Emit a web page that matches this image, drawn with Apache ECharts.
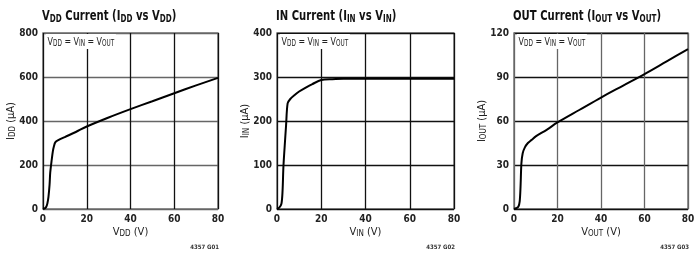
<!DOCTYPE html>
<html><head><meta charset="utf-8">
<script src="https://cdn.jsdelivr.net/npm/echarts@6/dist/echarts.min.js"></script>
<style>html,body{margin:0;padding:0;background:#fff}#c{width:699px;height:257px}</style>
</head><body><div id="c"></div>
<script>
// ---- data ----
const xTicks = [0, 20, 40, 60, 80];
const vddX = [0, 1, 1.5, 2, 2.5, 3, 3.3, 4, 4.5, 5, 5.6, 7, 10, 15, 20, 30, 40, 50, 60, 70, 80];
const iddY = [0, 4, 10, 25, 55, 110, 165, 225, 262, 285, 303, 313, 327, 350, 375, 416, 454, 490, 526, 562, 596];
const vinX = [0, 1, 2, 2.5, 2.9, 3.5, 4.1, 4.8, 6, 8, 10, 13, 16, 20, 25, 30, 40, 60, 80];
const iinY = [0, 3, 12, 40, 96, 145, 190, 240, 250, 259, 267, 276, 284, 293, 295, 296, 296, 296, 296];
const voutX = [0, 1, 2, 2.6, 3, 3.4, 4, 5, 6.4, 8, 10, 15, 20, 30, 40, 50, 60, 70, 80];
const ioutY = [0, 0.5, 1.5, 5, 15, 31, 38, 42, 45, 47, 49.5, 54, 59, 67.5, 76, 84, 92, 100.5, 109];
const yMax = [800, 400, 120];
const yStep = [200, 100, 30];

const FF = "'Liberation Sans Narrow','Arial Narrow','DejaVu Sans Condensed',sans-serif";
const richBase = {
  b: {fontSize: 14, fontWeight: 'bold', fontFamily: FF, fill: '#111', color: '#111'},
  s: {fontSize: 10, fontWeight: 'bold', fontFamily: FF, fill: '#111', color: '#111', padding: [6, 0, 0, 0]}
};
const richName = {
  b: {fontSize: 11, fontFamily: FF, color: '#222'},
  s: {fontSize: 8, fontFamily: FF, color: '#222', padding: [4, 0, 0, 0]}
};
const richAnn = {
  b: {fontSize: 11, fontFamily: FF, fill: '#222', color: '#222'},
  s: {fontSize: 8, fontFamily: FF, fill: '#222', color: '#222', padding: [4, 0, 0, 0]}
};

const titles = [
  '{b|V}{s|DD}{b| Current (I}{s|DD}{b| vs V}{s|DD}{b|)}',
  '{b|IN Current (I}{s|IN}{b| vs V}{s|IN}{b|)}',
  '{b|OUT Current (I}{s|OUT}{b| vs V}{s|OUT}{b|)}'
];
const xNames = ['{b|V}{s|DD}{b| (V)}', '{b|V}{s|IN}{b| (V)}', '{b|V}{s|OUT}{b| (V)}'];
const yNames = ['{b|I}{s|DD}{b| (µA)}', '{b|I}{s|IN}{b| (µA)}', '{b|I}{s|OUT}{b| (µA)}'];
const codes = ['4357 G01', '4357 G02', '4357 G03'];
const ann = '{b|V}{s|DD}{b| = V}{s|IN}{b| = V}{s|OUT}';

const grids = [
  {left: 43, right: 699 - 218, top: 33, height: 176},
  {left: 277, right: 699 - 454, top: 33, height: 176},
  {left: 514, right: 699 - 688, top: 33, height: 176}
];
const rights = [218, 454, 688];
const vCol = ['#111', '#111', '#666'];
const hCol = ['#666', '#111', '#111'];

const dataSets = [
  vddX.map((x, i) => [x, iddY[i]]),
  vinX.map((x, i) => [x, iinY[i]]),
  voutX.map((x, i) => [x, ioutY[i]])
];

const option = {
  animation: false,
  grid: grids.map(g => Object.assign({show: true, borderColor: '#777', borderWidth: 1.5}, g)),
  xAxis: grids.map((g, i) => ({
    type: 'value', gridIndex: i, min: 0, max: 80, interval: 20,
    axisLine: {show: false}, axisTick: {show: false},
    axisLabel: {fontSize: 10, fontWeight: 'bold', fontFamily: FF, color: '#222', margin: 5},
    splitLine: {lineStyle: {color: vCol[i], width: 1.3}},
    name: xNames[i], nameLocation: 'middle', nameGap: 17, nameMoveOverlap: false,
    nameTextStyle: {rich: richName}
  })),
  yAxis: grids.map((g, i) => ({
    type: 'value', gridIndex: i, min: 0, max: yMax[i], interval: yStep[i],
    axisLine: {show: false}, axisTick: {show: false},
    axisLabel: {fontSize: 10, fontWeight: 'bold', fontFamily: FF, color: '#222', margin: 5},
    splitLine: {lineStyle: {color: hCol[i], width: 1.3}},
    name: yNames[i], nameLocation: 'middle', nameGap: 26, nameRotate: 90, nameMoveOverlap: false,
    nameTextStyle: {rich: richName}
  })),
  series: dataSets.map((d, i) => ({
    type: 'line', xAxisIndex: i, yAxisIndex: i, data: d,
    smooth: 0.3, showSymbol: false,
    lineStyle: {color: '#000', width: 2}
  })),
  graphic: grids.flatMap((g, i) => [
    {type: 'text', x: g.left - 1, y: 8, scaleX: 0.8, z: 10,
     style: {text: titles[i], rich: richBase, verticalAlign: 'top'}},
    {type: 'text', x: g.left + 3, y: 34, scaleX: 0.8, z: 10,
     style: {text: ann, rich: richAnn, verticalAlign: 'top', backgroundColor: '#fff', padding: [2, 2, 1, 2]}},
    {type: 'text', x: rights[i] + 1, y: 244,
     style: {text: codes[i], fontSize: 6, fontWeight: 'bold', fontFamily: FF, fill: '#333', align: 'right', verticalAlign: 'top'}}
  ])
};
const chart = echarts.init(document.getElementById('c'));
chart.setOption(option);
</script></body></html>
